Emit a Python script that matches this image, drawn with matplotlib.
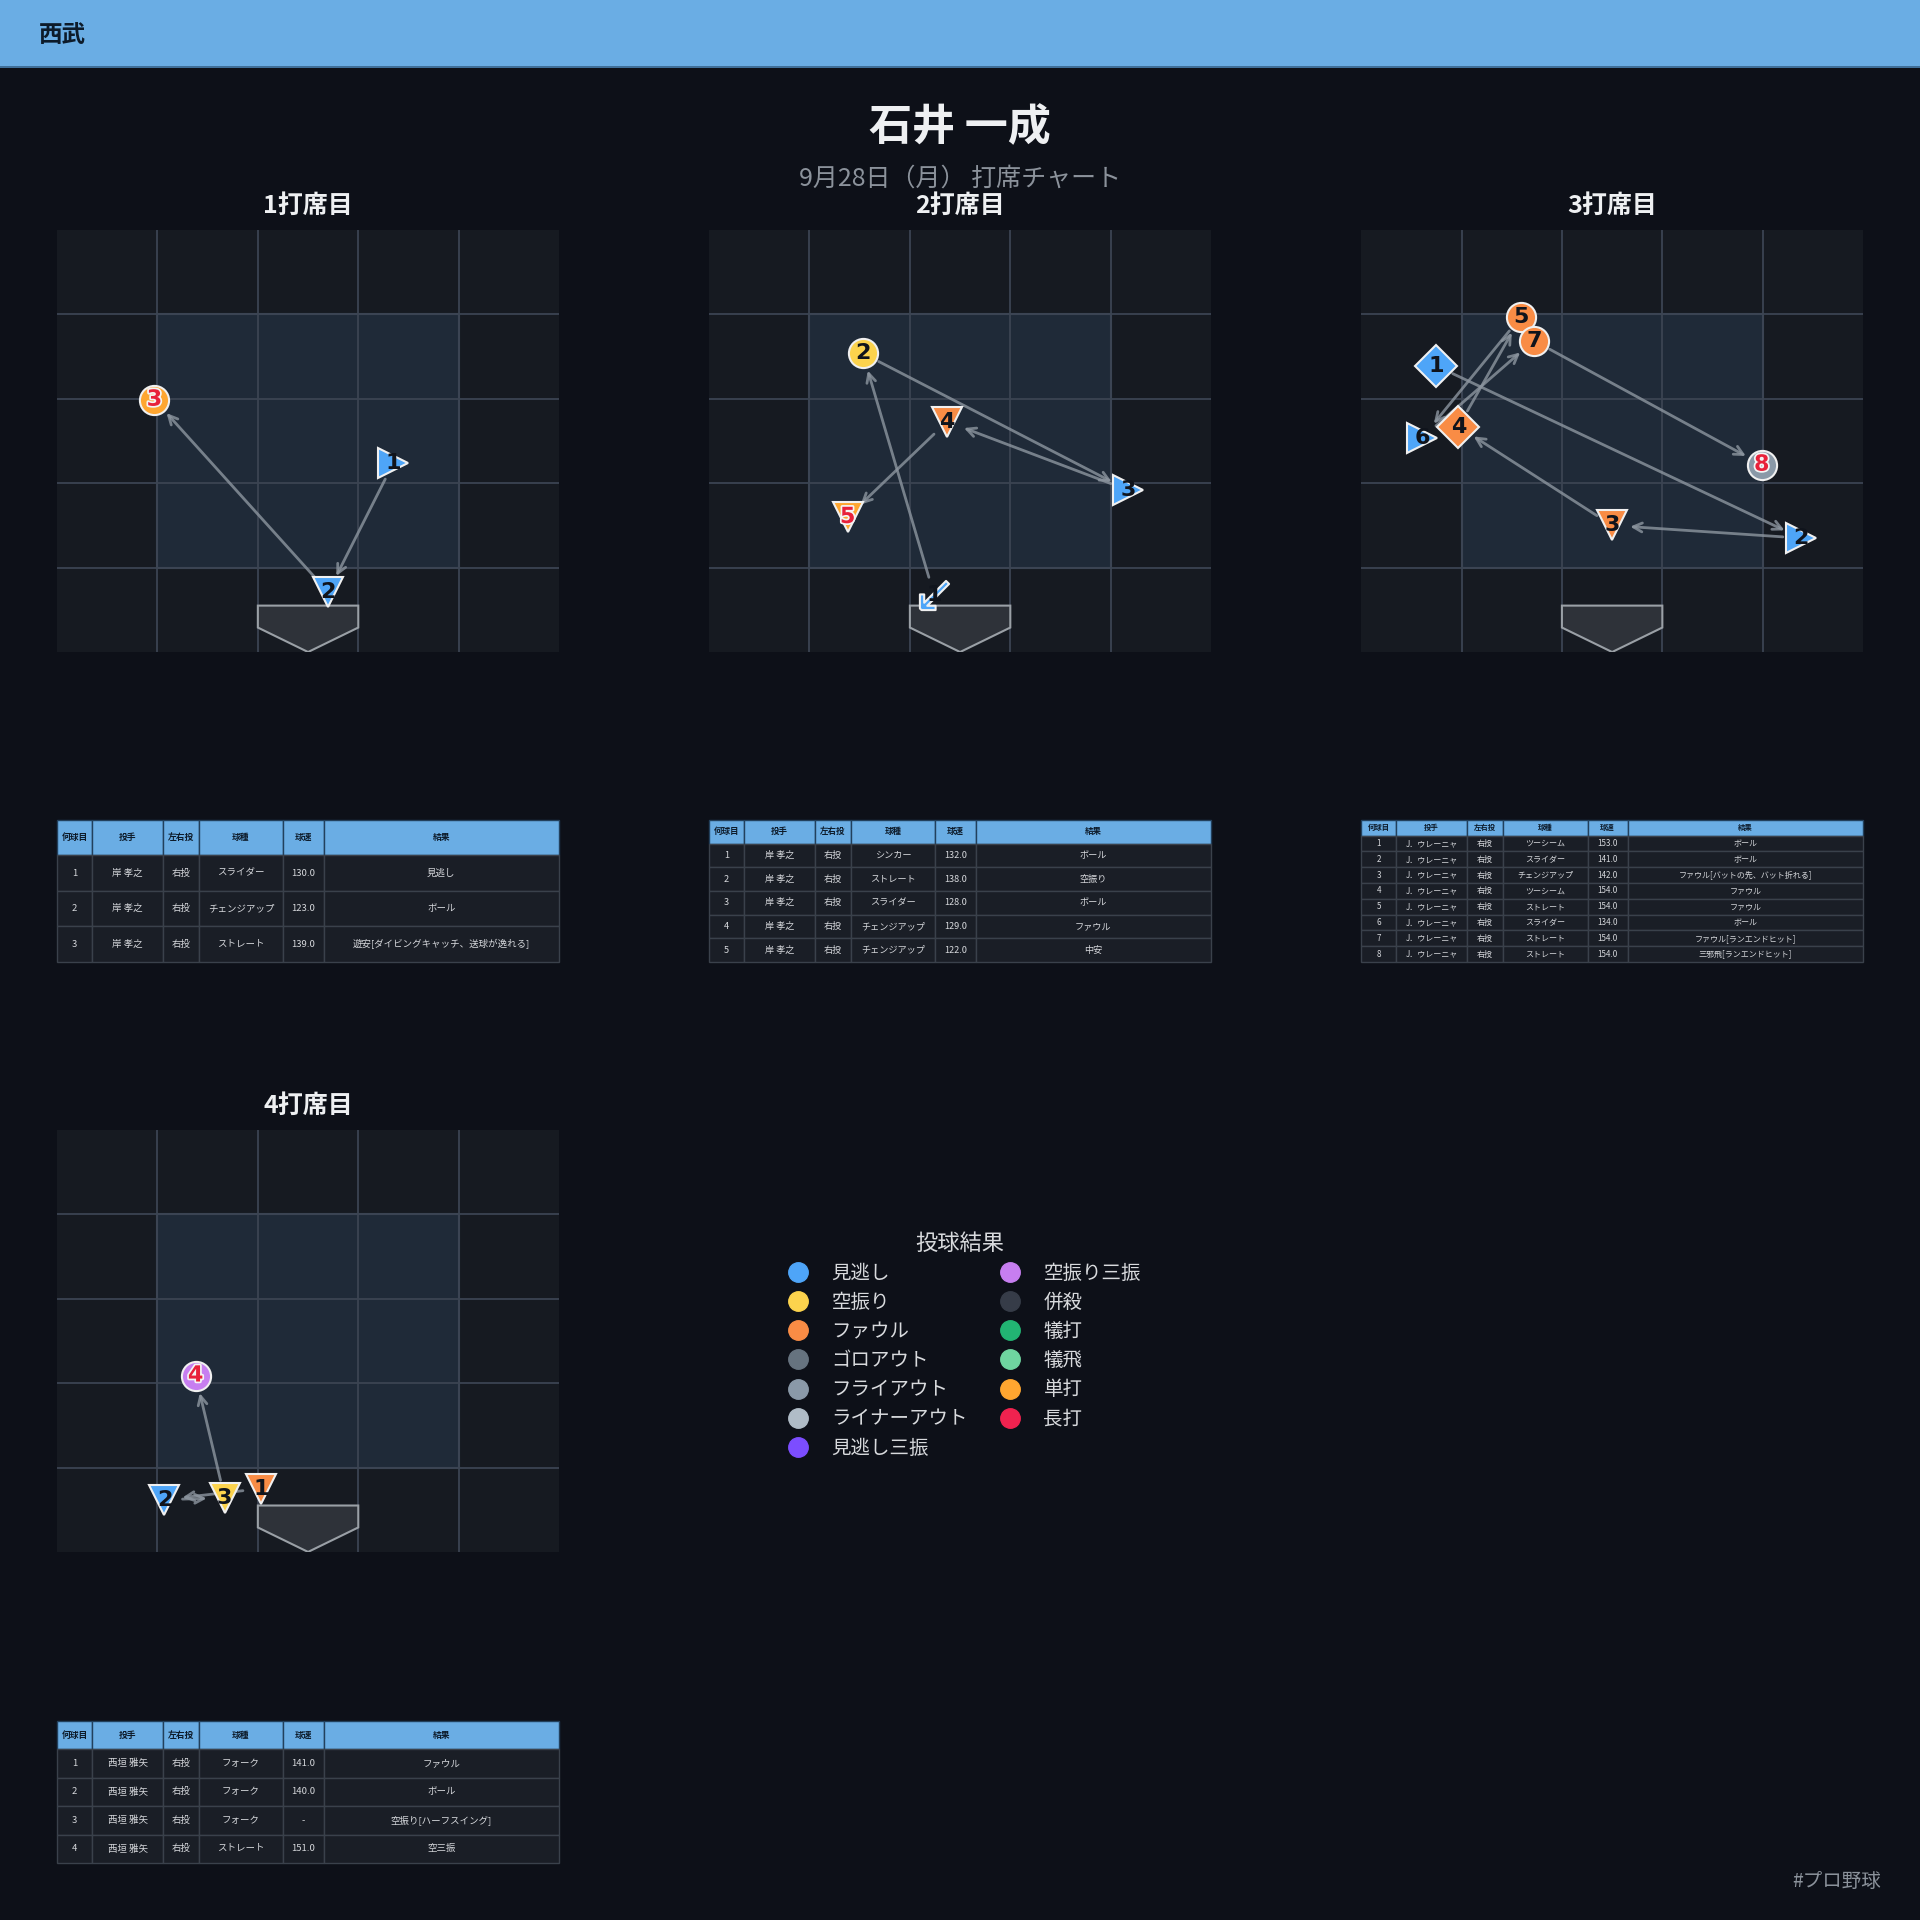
import matplotlib
matplotlib.use('Agg')
import matplotlib.pyplot as plt
import matplotlib.patheffects as pe
from matplotlib.lines import Line2D
from matplotlib.patches import Rectangle, Polygon

plt.rcParams['font.family'] = ['Noto Sans CJK JP', 'DejaVu Sans']

BG = '#0d1018'
HEADER = '#6aade4'

# --- data (zone coords: 0..5 across, 0..5 up; strike zone is 1..4) ---
ab1_x = [3.35, 2.70, 0.97]
ab1_y = [2.24, 0.71, 2.99]
ab1_pitcher = ['岸 孝之', '岸 孝之', '岸 孝之']
ab1_pitch = ['スライダー', 'チェンジアップ', 'ストレート']
ab1_speed = ['130.0', '123.0', '139.0']
ab1_result = ['見逃し', 'ボール', '遊安[ダイビングキャッチ、送球が逸れる]']
ab1_cat = ['見逃し', 'ボール', '単打']

ab2_x = [2.24, 1.53, 4.17, 2.37, 1.38]
ab2_y = [0.68, 3.54, 1.92, 2.73, 1.60]
ab2_pitcher = ['岸 孝之'] * 5
ab2_pitch = ['シンカー', 'ストレート', 'スライダー', 'チェンジアップ', 'チェンジアップ']
ab2_speed = ['132.0', '138.0', '128.0', '129.0', '122.0']
ab2_result = ['ボール', '空振り', 'ボール', 'ファウル', '中安']
ab2_cat = ['ボール', '空振り', 'ボール', 'ファウル', '単打']

ab3_x = [0.75, 4.38, 2.50, 0.97, 1.59, 0.61, 1.72, 3.99]
ab3_y = [3.39, 1.35, 1.50, 2.67, 3.97, 2.54, 3.69, 2.22]
ab3_pitcher = ['J．ウレーニャ'] * 8
ab3_pitch = ['ツーシーム', 'スライダー', 'チェンジアップ', 'ツーシーム',
             'ストレート', 'スライダー', 'ストレート', 'ストレート']
ab3_speed = ['153.0', '141.0', '142.0', '154.0', '154.0', '134.0', '154.0', '154.0']
ab3_result = ['ボール', 'ボール', 'ファウル[バットの先、バット折れる]', 'ファウル',
              'ファウル', 'ボール', 'ファウル[ランエンドヒット]', '三邪飛[ランエンドヒット]']
ab3_cat = ['ボール', 'ボール', 'ファウル', 'ファウル', 'ファウル', 'ボール', 'ファウル', 'フライアウト']

ab4_x = [2.03, 1.07, 1.67, 1.38]
ab4_y = [0.75, 0.62, 0.64, 2.09]
ab4_pitcher = ['西垣 雅矢'] * 4
ab4_pitch = ['フォーク', 'フォーク', 'フォーク', 'ストレート']
ab4_speed = ['141.0', '140.0', '-', '151.0']
ab4_result = ['ファウル', 'ボール', '空振り[ハーフスイング]', '空三振']
ab4_cat = ['ファウル', 'ボール', '空振り', '空振り三振']

legend_labels = ['見逃し', '空振り', 'ファウル', 'ゴロアウト', 'フライアウト', 'ライナーアウト',
                 '見逃し三振', '空振り三振', '併殺', '犠打', '犠飛', '単打', '長打']
legend_colors = ['#4ea5f8', '#fcd34d', '#f98c45', '#66737f', '#8a99a8', '#b0bcc7',
                 '#7c4dff', '#c77ef0', '#363c48', '#22b573', '#6fd5a0', '#ffa630', '#f0224f']

colors = dict(zip(legend_labels, legend_colors))
colors['ボール'] = '#4ea5f8'

markers = {'ストレート': 'o', 'ツーシーム': 'D', 'スライダー': '>',
           'チェンジアップ': 'v', 'フォーク': 'v', 'シンカー': r'$\swarrow$'}

fig = plt.figure(figsize=(19.2, 19.2), dpi=100, facecolor=BG)

# header band
fig.patches.append(Rectangle((0, 0.965), 1, 0.035, transform=fig.transFigure,
                             facecolor=HEADER, edgecolor='none'))
fig.patches.append(Rectangle((0, 0.9645), 1, 0.0012, transform=fig.transFigure,
                             facecolor='#3f6f99', edgecolor='none'))
fig.text(0.020, 0.982, '西武', fontsize=17, fontweight='bold', color='#0d1b2a', va='center')

fig.text(0.5, 0.9336, '石井 一成', fontsize=31, fontweight='bold', color='#eef0f2',
         ha='center', va='center')
fig.text(0.5, 0.907, '9月28日（月） 打席チャート', fontsize=18, color='#8b929b',
         ha='center', va='center')


def draw_zone(ax, xs, ys, pitches, cats, title):
    ax.set_facecolor('#161a21')
    ax.add_patch(Rectangle((1, 1), 3, 3, facecolor='#1f2a38', edgecolor='#3e4d5e',
                           lw=1.5, zorder=0))
    for v in range(1, 5):
        ax.axvline(v, color='#3b4452', lw=1.3, zorder=1)
        ax.axhline(v, color='#3b4452', lw=1.3, zorder=1)
    ax.add_patch(Polygon([(2, 0.55), (3, 0.55), (3, 0.29), (2.5, 0), (2, 0.29)],
                         closed=True, facecolor='#2e3239', edgecolor='#9aa0a6',
                         lw=1.5, zorder=1))
    # pitch sequence arrows
    for i in range(len(xs) - 1):
        ax.annotate('', xy=(xs[i + 1], ys[i + 1]), xytext=(xs[i], ys[i]),
                    arrowprops=dict(arrowstyle='->', color='#8d96a0', lw=2,
                                    alpha=0.8, shrinkA=13, shrinkB=13,
                                    mutation_scale=16),
                    zorder=2)
    n = len(xs)
    for i in range(n):
        ax.plot(xs[i], ys[i], marker=markers[pitches[i]], ms=21, ls='none',
                mfc=colors[cats[i]], mec='#f0f0f0', mew=1.5, zorder=3)
        last = i == n - 1
        t = ax.text(xs[i], ys[i], str(i + 1), ha='center', va='center',
                    fontsize=16, fontweight='bold', family='DejaVu Sans',
                    color='#e8213a' if last else '#10141c', zorder=4)
        if last:
            t.set_path_effects([pe.withStroke(linewidth=2.5, foreground='#f4f4f4')])
    ax.set_xlim(0, 5)
    ax.set_ylim(0, 5)
    ax.set_xticks([])
    ax.set_yticks([])
    for s in ax.spines.values():
        s.set_visible(False)
    ax.set_title(title, fontsize=18, fontweight='bold', color='#eef0f2', pad=12)


def draw_table(ax, pitchers, pitches, speeds, results, fs):
    ax.axis('off')
    cols = ['何球目', '投手', '左右投', '球種', '球速', '結果']
    rows = [[str(i + 1), pitchers[i], '右投', pitches[i], speeds[i], results[i]]
            for i in range(len(pitches))]
    tb = ax.table(cellText=rows, colLabels=cols, bbox=[0, 0, 1, 1], cellLoc='center',
                  colWidths=[0.070, 0.141, 0.071, 0.169, 0.080, 0.469])
    tb.auto_set_font_size(False)
    for (r, c), cell in tb.get_celld().items():
        cell.set_linewidth(1.0)
        if r == 0:
            cell.set_facecolor(HEADER)
            cell.set_edgecolor('#22405c')
            cell.get_text().set_color('#0d1b2a')
            cell.get_text().set_fontweight('bold')
            cell.get_text().set_fontsize(fs - 0.5)
        else:
            cell.set_facecolor('#1a1e26')
            cell.set_edgecolor('#3a414b')
            cell.get_text().set_color('#d6d8dc')
            cell.get_text().set_fontsize(fs)


at_bats = [
    (ab1_x, ab1_y, ab1_pitcher, ab1_pitch, ab1_speed, ab1_result, ab1_cat, '1打席目', 6.8),
    (ab2_x, ab2_y, ab2_pitcher, ab2_pitch, ab2_speed, ab2_result, ab2_cat, '2打席目', 6.6),
    (ab3_x, ab3_y, ab3_pitcher, ab3_pitch, ab3_speed, ab3_result, ab3_cat, '3打席目', 5.8),
    (ab4_x, ab4_y, ab4_pitcher, ab4_pitch, ab4_speed, ab4_result, ab4_cat, '4打席目', 6.8),
]
lefts = [0.0297, 0.3693, 0.7089, 0.0297]
zone_bottoms = [0.6604, 0.6604, 0.6604, 0.1917]
table_bottoms = [0.4990, 0.4990, 0.4990, 0.0297]

for k, ab in enumerate(at_bats):
    xs, ys, pit, pt, sp, res, cat, title, fs = ab
    axz = fig.add_axes([lefts[k], zone_bottoms[k], 0.2615, 0.2198])
    draw_zone(axz, xs, ys, pt, cat, title)
    axt = fig.add_axes([lefts[k], table_bottoms[k], 0.2615, 0.0740])
    draw_table(axt, pit, pt, sp, res, fs)

handles = [Line2D([], [], marker='o', ls='none', ms=14, mfc=c, mec=c)
           for c in legend_colors]
leg = fig.legend(handles, legend_labels, ncol=2, loc='center',
                 bbox_to_anchor=(0.500, 0.2994), frameon=False, fontsize=14,
                 title='投球結果', title_fontsize=16, labelcolor='#d8dadd',
                 labelspacing=0.42, handletextpad=0.7, columnspacing=1.18)
leg.get_title().set_color('#d8dadd')

fig.text(0.9797, 0.0203, '#プロ野球', fontsize=14, color='#8b929b', ha='right', va='center')

fig.savefig('out.png', dpi=100, facecolor=BG)
